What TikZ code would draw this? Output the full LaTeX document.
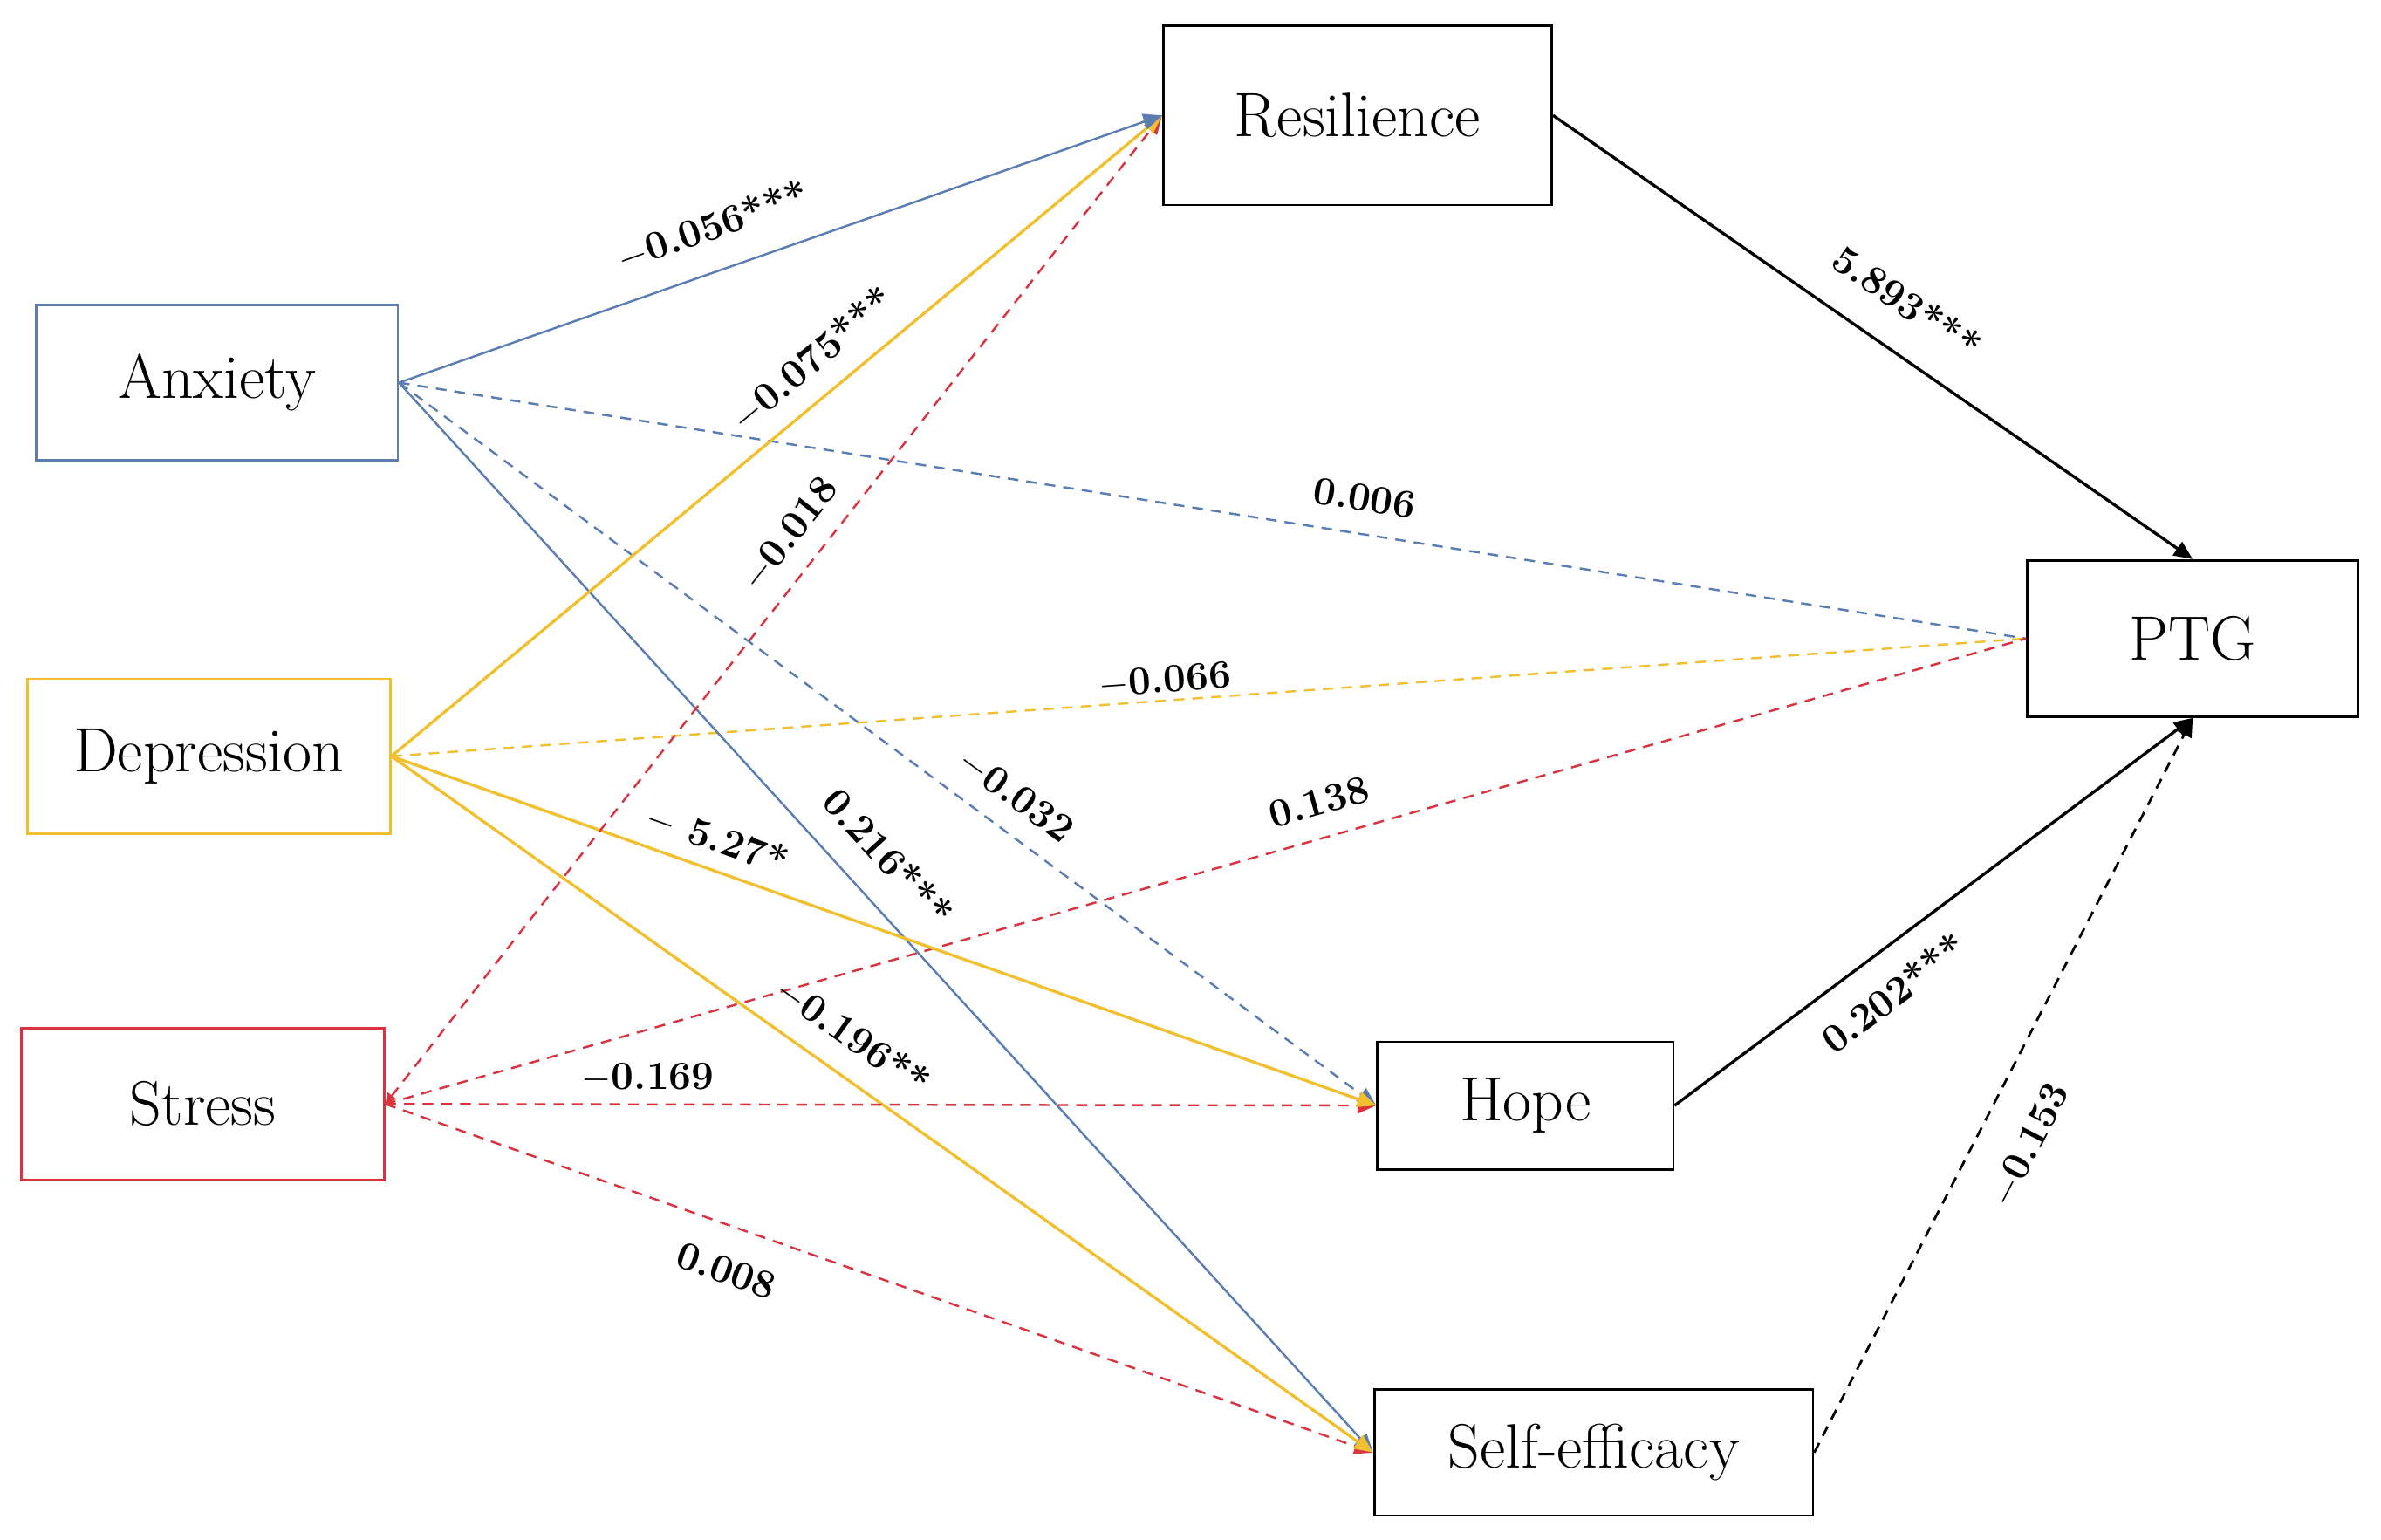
\documentclass[tikz,border=0pt]{standalone}
\usetikzlibrary{arrows.meta}
\definecolor{cblue}{HTML}{5B7DB1}
\definecolor{cyel}{HTML}{F0C030}
\definecolor{cred}{HTML}{D9333F}
\begin{document}
\begin{tikzpicture}[x=0.02cm,y=-0.02cm,
  box/.style={draw,line width=0.9pt,rectangle,inner sep=0pt,font=\fontsize{23.5}{28}\selectfont},
  lab/.style={font=\fontsize{15}{18}\selectfont\bfseries,sloped,inner sep=0pt},
  tip/.style={-{Triangle[length=7pt,width=6pt]}},
  dsh/.style={dash pattern=on 4pt off 3pt},
  bl/.style={draw=cblue,line width=0.8pt},
  ye/.style={draw=cyel,line width=1.1pt},
  re/.style={draw=cred,line width=0.8pt},
  bk/.style={draw=black,line width=1.1pt}]
\useasboundingbox (0,0) rectangle (1568,1014);
\node[box,minimum width=5.12cm,minimum height=2.36cm] (res) at (894,76) {Resilience};
\node[box,draw=cblue,minimum width=4.76cm,minimum height=2.04cm] (anx) at (143,252) {Anxiety};
\node[box,draw=cyel,minimum width=4.78cm,minimum height=2.04cm] (dep) at (137.5,498) {Depression};
\node[box,draw=cred,minimum width=4.78cm,minimum height=2.0cm] (str) at (133.5,727) {Stress};
\node[box,minimum width=4.36cm,minimum height=2.06cm] (ptg) at (1444,420.5) {PTG};
\node[box,minimum width=3.9cm,minimum height=1.68cm] (hope) at (1004.5,728) {Hope};
\node[box,minimum width=5.78cm,minimum height=1.66cm] (se) at (1049.5,956.5) {Self-efficacy};
% to PTG (dashed, no tips)
\draw[bl,dsh] (anx.east) -- (ptg.west) node[lab,pos=0.59,above=8pt] {0.006};
\draw[ye,dsh,line width=0.8pt] (dep.east) -- (ptg.west) node[lab,pos=0.474,above=1.5pt] {$-$0.066};
\draw[re,dsh] (str.east) -- (ptg.west) node[lab,pos=0.575,above=8pt] {0.138};
% to self-efficacy
\draw[re,dsh,tip] (str.east) -- (se.west) node[lab,pos=0.36,below=11pt] {0.008};
\draw[bl,tip] (anx.east) -- (se.west) node[lab,pos=0.47,above=10pt] {0.216***};
\draw[ye,tip] (dep.east) -- (se.west) node[lab,pos=0.447,above=8pt] {$-$0.196**};
% to hope
\draw[re,dsh,tip] (str.east) -- (hope.west) node[lab,pos=0.265,above=4pt] {$-$0.169};
\draw[bl,dsh,tip] (anx.east) -- (hope.west) node[lab,pos=0.61,above=7pt] {$-$0.032};
\draw[ye,tip] (dep.east) -- (hope.west) node[lab,pos=0.32,above=5pt] {$-$ 5.27*};
% to resilience
\draw[re,dsh,{Triangle[length=4pt,width=4pt]}-{Triangle[length=7pt,width=6pt]}] (str.east) -- (res.west) node[lab,pos=0.555,above=7pt] {$-$0.018};
\draw[ye,tip] (dep.east) -- (res.west) node[lab,pos=0.576,above=7pt] {$-$0.075***};
\draw[bl,tip] (anx.east) -- (res.west) node[lab,pos=0.43,above=10pt] {$-$0.056***};
% to PTG black
\draw[bk,tip] (res.east) -- (ptg.north) node[lab,pos=0.51,above=12pt] {5.893***};
\draw[bk,tip] (hope.east) -- (ptg.south) node[lab,pos=0.375,below=9pt] {0.202***};
\draw[bk,dsh,tip,line width=0.9pt] (se.east) -- (ptg.south) node[lab,pos=0.45,below=13pt] {$-$0.153};
\end{tikzpicture}
\end{document}
